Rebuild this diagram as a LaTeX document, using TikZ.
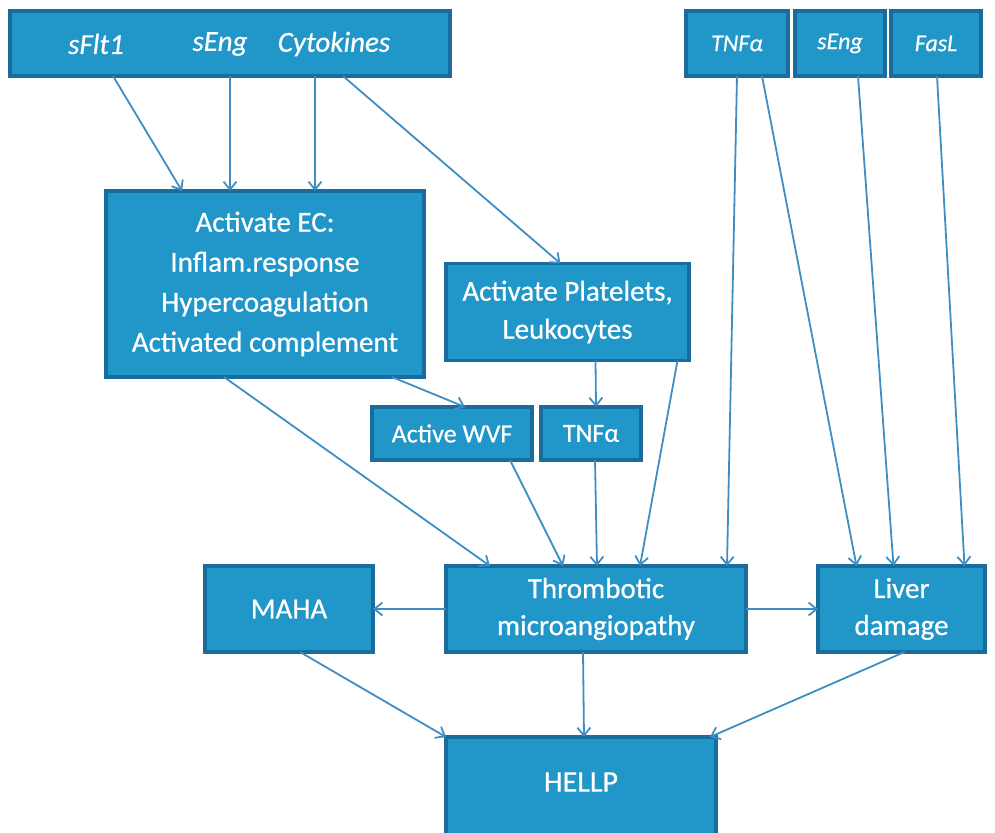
\documentclass[tikz,border=0pt]{standalone}
\usepackage{fontspec}
\setmainfont{Carlito}[FakeBold=0.6,ItalicFeatures={FakeBold=0.6}]
\usetikzlibrary{arrows.meta,calc}
\definecolor{boxfill}{HTML}{2196C8}
\definecolor{boxline}{HTML}{1A6C9C}
\definecolor{arr}{HTML}{3E8EC4}
\begin{document}
\begin{tikzpicture}[x=1pt,y=-1pt,
  bx/.style={draw=boxline,fill=boxfill,line width=3.5pt,text=white,align=center,inner sep=0pt,outer sep=0pt},
  conn/.style={draw=arr,line width=1.8pt,-{Straight Barb[length=8pt,width=13pt,line width=1.8pt]}},
  big/.style={font=\fontsize{29}{40}\selectfont},
  lab/.style={text=white,font=\fontsize{29}{34}\selectfont\itshape},
  slab/.style={font=\fontsize{24}{28}\selectfont\itshape}]
\useasboundingbox (0,0) rectangle (995,832);
% boxes
\node[bx,minimum width=440,minimum height=65] (top) at (230,43.5) {};
\node[lab] (sflt) at (96,44) {sFlt1};
\node[lab] (seng) at (220,44) {sEng};
\node[lab] (cyto) at (334,44) {Cytokines};
\node[bx,slab,minimum width=102,minimum height=65] (tnfa) at (737,43.5) {TNFα};
\node[bx,slab,minimum width=90,minimum height=65] (seng2) at (840,43.5) {sEng};
\node[bx,slab,minimum width=90,minimum height=65] (fasl) at (936,43.5) {FasL};
\node[bx,big,minimum width=318,minimum height=186] (ec) at (265,284)
  {Activate EC:\\Inflam.response\\Hypercoagulation\\Activated complement};
\node[bx,big,minimum width=243,minimum height=97,font=\fontsize{29}{38}\selectfont] (plt) at (567.5,312)
  {Activate Platelets,\\Leukocytes};
\node[bx,minimum width=160,minimum height=53,font=\fontsize{26}{30}\selectfont] (wvf) at (452,433.5) {Active WVF};
\node[bx,minimum width=100,minimum height=53,font=\fontsize{26}{30}\selectfont] (tnfb) at (591,433.5) {TNFα};
\node[bx,minimum width=300,minimum height=86,font=\fontsize{29}{37}\selectfont] (tma) at (596,609) {Thrombotic\\microangiopathy};
\node[bx,minimum width=168,minimum height=86,font=\fontsize{29}{37}\selectfont] (maha) at (289,609) {MAHA};
\node[bx,minimum width=167,minimum height=86,font=\fontsize{29}{37}\selectfont] (liver) at (901.5,609) {Liver\\damage};
\node[bx,minimum width=270,minimum height=100] (hellp) at (581,787) {};
\node[text=white,font=\fontsize{30}{35}\selectfont] (hellptxt) at (581,782) {HELLP};
% connectors
\draw[conn] ([xshift=-117]top.south) -- ([xshift=-83]ec.north);
\draw[conn] ([xshift=0]top.south) -- ([xshift=-35]ec.north);
\draw[conn] ([xshift=85]top.south) -- ([xshift=50]ec.north);
\draw[conn] ([xshift=113]top.south) -- ([xshift=-7]plt.north);
\draw[conn] ([xshift=0]tnfa.south) -- ([xshift=131]tma.north);
\draw[conn] ([xshift=25]tnfa.south) -- ([xshift=-45]liver.north);
\draw[conn] ([xshift=18]seng2.south) -- ([xshift=-8]liver.north);
\draw[conn] ([xshift=1]fasl.south) -- ([xshift=63]liver.north);
\draw[conn] ([xshift=-41]ec.south) -- ([xshift=-106]tma.north);
\draw[conn] ([xshift=127]ec.south) -- ([xshift=13]wvf.north);
\draw[conn] ([xshift=28]plt.south) -- ([xshift=5]tnfb.north);
\draw[conn] ([xshift=110]plt.south) -- ([xshift=44]tma.north);
\draw[conn] ([xshift=58]wvf.south) -- ([xshift=-33]tma.north);
\draw[conn] ([xshift=4]tnfb.south) -- ([xshift=1]tma.north);
\draw[conn] (tma.west) -- (maha.east);
\draw[conn] (tma.east) -- (liver.west);
\draw[conn] ([xshift=11]maha.south) -- ([xshift=-135]hellp.north);
\draw[conn] ([xshift=-13]tma.south) -- ([xshift=3]hellp.north);
\draw[conn] ([xshift=3]liver.south) -- ([xshift=129]hellp.north);
\end{tikzpicture}
\end{document}
